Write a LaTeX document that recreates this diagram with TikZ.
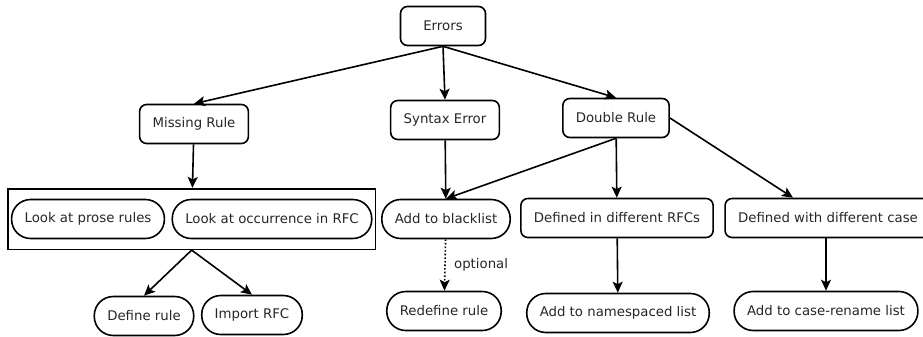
\documentclass[tikz,border=0pt]{standalone}
\usepackage{fontspec}
\setmainfont{DejaVu Sans}
\usetikzlibrary{arrows.meta,positioning,fit}

\begin{document}
\begin{tikzpicture}[->,>={Stealth[length=11pt,width=10pt,inset=2.5pt]},
            line width=1.6pt,x=1pt,y=-1pt,
            every node/.style={font=\fontsize{13.3}{15}\selectfont,text=black!85},
            rulebox/.style={draw,rounded corners=7pt,minimum height=39pt,
                inner xsep=13pt,minimum width=85pt},
            pillbox/.style={draw,rounded corners=19pt,minimum height=39pt,
                inner xsep=13pt}]
            \useasboundingbox (0,0) rectangle (923,337);

            \node[rulebox] (E)  at (443,26)  {Errors};
            \node[rulebox] (MR) at (194,124) {Missing Rule};
            \node[rulebox] (SE) at (445,120) {Syntax Error};
            \node[rulebox] (DR) at (616,118) {Double Rule};

            \node[pillbox] (LP) at (88,219)  {Look at prose rules};
            \node[pillbox] (LO) at (272,219) {Look at occurrence in RFC};
            \node[draw,fit=(LP)(LO),inner xsep=3pt,inner ysep=10pt] (G) {};
            \node[pillbox] (BL) at (446,219) {Add to blacklist};
            \node[rulebox] (DI) at (617,218) {Defined in different RFCs};
            \node[rulebox,minimum width=204pt] (DW) at (828,218) {Defined with different case};

            \node[pillbox] (DF) at (144,316) {Define rule};
            \node[pillbox] (IR) at (252,315) {Import RFC};
            \node[pillbox] (RD) at (444,311) {Redefine rule};
            \node[pillbox] (AN) at (618,313) {Add to namespaced list};
            \node[pillbox] (AC) at (826,311) {Add to case-rename list};

            % From Errors
            \path (E.south) edge (MR.north);
            \path (E.south) edge (SE.north);
            \path (E.south) edge (DR.north);

            % From Missing Rule
            \path (MR) edge (G);
            \path (G.south) edge (DF.north);
            \path (G.south) edge (IR.north);

            % From Syntax Error
            \path (SE) edge (BL);
            \path (BL) edge[dotted] node[right=5pt] {optional} (RD);

            % From Double Rule
            \path (DR.south) edge (BL.north);
            \path (DR) edge (DI);
            \path (DR.east) edge ([xshift=-35pt]DW.north);
            \path (DI) edge (AN);
            \path (DW.south -| AC) edge (AC);

        \end{tikzpicture}
\end{document}
